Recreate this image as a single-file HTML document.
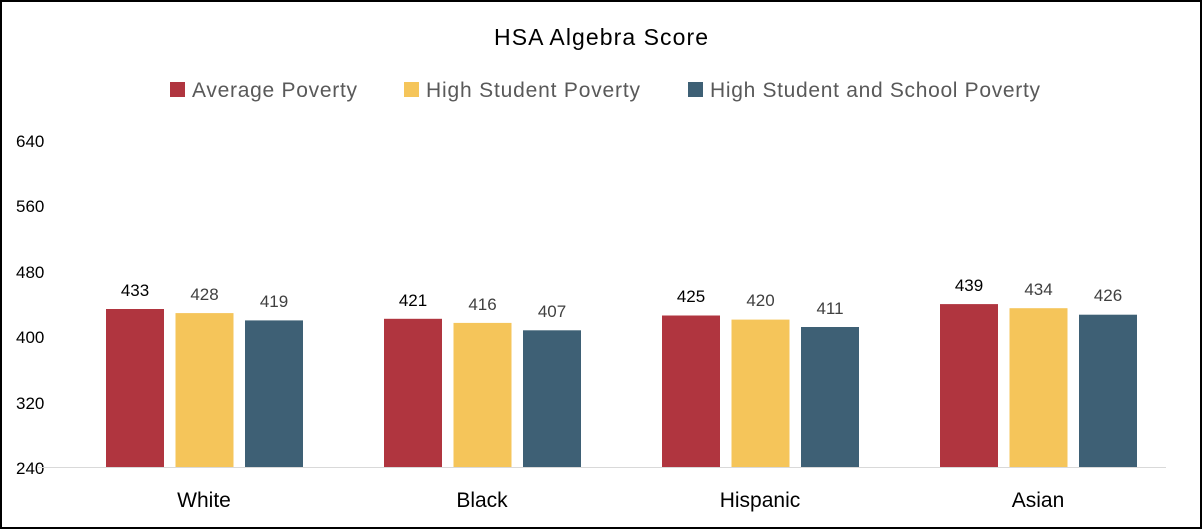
<!DOCTYPE html><html><head><style>body{margin:0;background:#fff}svg{display:block}</style></head><body>
<svg width="1202" height="529" xmlns="http://www.w3.org/2000/svg" font-family="Liberation Sans, sans-serif">
<rect x="1" y="1" width="1200" height="527" fill="#fff" stroke="#000" stroke-width="2"/>
<text x="494" y="45" font-size="23" fill="#000" textLength="214">HSA Algebra Score</text>
<rect x="170" y="82" width="15" height="15" fill="#B0353F"/><text x="192" y="97" font-size="21" fill="#595959" textLength="165">Average Poverty</text>
<rect x="404" y="82" width="15" height="15" fill="#F5C55A"/><text x="426" y="97" font-size="21" fill="#595959" textLength="214">High Student Poverty</text>
<rect x="688" y="82" width="15" height="15" fill="#3E6075"/><text x="710" y="97" font-size="21" fill="#595959" textLength="330">High Student and School Poverty</text>
<g font-size="17" fill="#000">
<text x="16" y="147">640</text><text x="16" y="212">560</text><text x="16" y="278">480</text><text x="16" y="343">400</text><text x="16" y="409">320</text><text x="16" y="474">240</text>
</g>
<line x1="38" y1="467.5" x2="1166" y2="467.5" stroke="#d9d9d9" stroke-width="1"/>
<g>
<rect x="106" y="309" width="58" height="158" fill="#B0353F"/>
<rect x="175.5" y="313.1" width="58" height="153.9" fill="#F5C55A"/>
<rect x="245" y="320.4" width="58" height="146.6" fill="#3E6075"/>
<rect x="384" y="318.8" width="58" height="148.2" fill="#B0353F"/>
<rect x="453.5" y="322.9" width="58" height="144.1" fill="#F5C55A"/>
<rect x="523" y="330.3" width="58" height="136.7" fill="#3E6075"/>
<rect x="662" y="315.5" width="58" height="151.5" fill="#B0353F"/>
<rect x="731.5" y="319.6" width="58" height="147.4" fill="#F5C55A"/>
<rect x="801" y="327" width="58" height="140" fill="#3E6075"/>
<rect x="940" y="304.1" width="58" height="162.9" fill="#B0353F"/>
<rect x="1009.5" y="308.2" width="58" height="158.8" fill="#F5C55A"/>
<rect x="1079" y="314.7" width="58" height="152.3" fill="#3E6075"/>
</g>
<g font-size="17" text-anchor="middle" fill="#404040">
<text x="135" y="296" fill="#000">433</text><text x="204.5" y="300">428</text><text x="274" y="307">419</text>
<text x="413" y="306" fill="#000">421</text><text x="482.5" y="310">416</text><text x="552" y="317">407</text>
<text x="691" y="302" fill="#000">425</text><text x="760.5" y="306">420</text><text x="830" y="314">411</text>
<text x="969" y="291" fill="#000">439</text><text x="1038.5" y="295">434</text><text x="1108" y="301">426</text>
</g>
<g font-size="21" text-anchor="middle" fill="#000">
<text x="204" y="507">White</text><text x="482" y="507">Black</text><text x="760" y="507">Hispanic</text><text x="1038" y="507">Asian</text>
</g>
</svg></body></html>
